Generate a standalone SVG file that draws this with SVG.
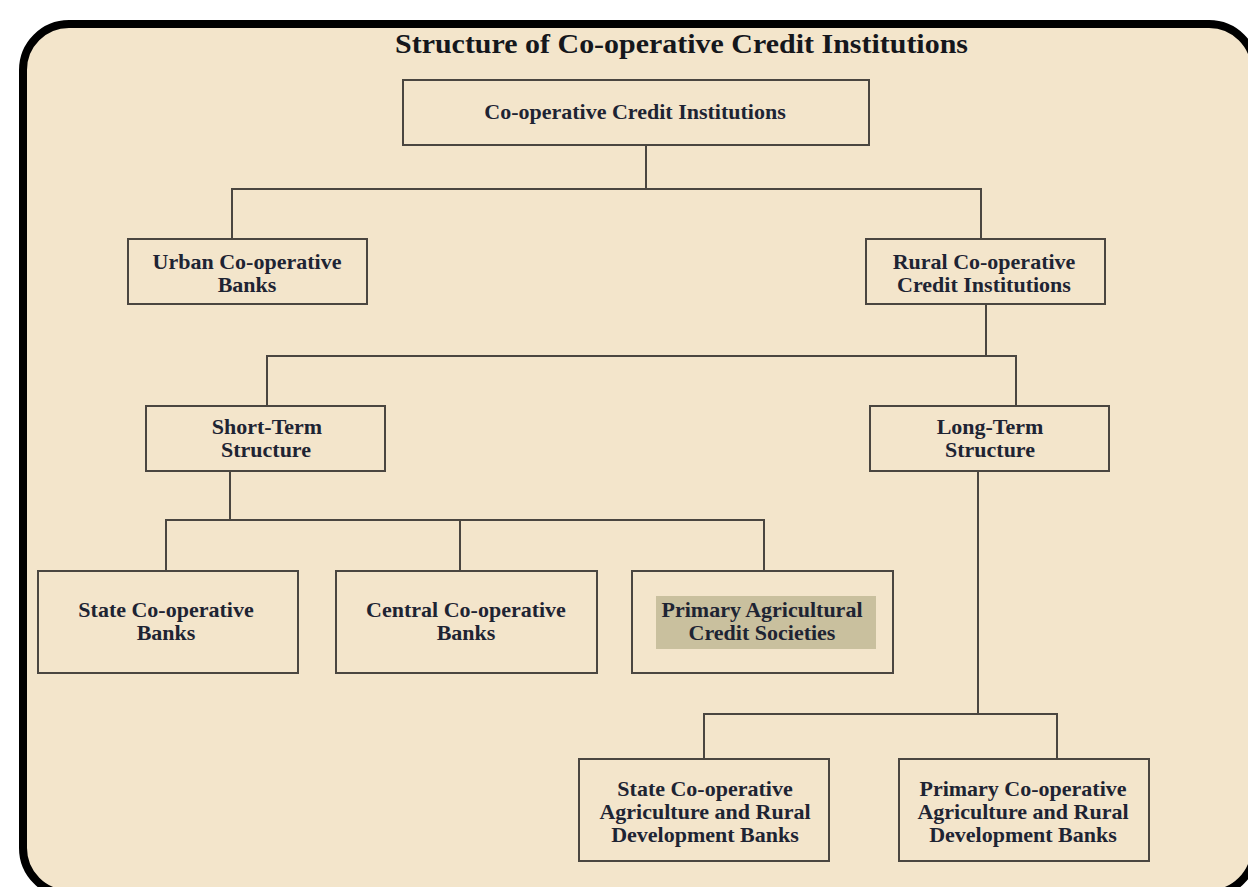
<svg xmlns="http://www.w3.org/2000/svg" width="1248" height="887" viewBox="0 0 1248 887">
<style>
.box{fill:none;stroke:#4a4640;stroke-width:2}
.lbl{font-family:"Liberation Serif","Times New Roman",serif;font-weight:bold;font-size:22px;fill:#1e2433;text-anchor:middle}
.ttl{font-family:"Liberation Serif","Times New Roman",serif;font-weight:bold;font-size:27px;fill:#15171c;text-anchor:middle}
.conn{fill:none;stroke:#4a4640;stroke-width:2}
</style>
<rect x="0" y="0" width="1248" height="887" fill="#ffffff"/>
<rect id="frame" x="23" y="24" width="1232" height="870" rx="46" ry="46" fill="#f3e5cb" stroke="#000" stroke-width="8"/>
<text class="ttl" x="681.5" y="53" textLength="573" lengthAdjust="spacingAndGlyphs">Structure of Co-operative Credit Institutions</text>
<g id="connectors" class="conn">
<path d="M646 145V189M232 239V189H981V239"/>
<path d="M986 304V356M267 406V356H1016V406"/>
<path d="M230 471V520M166 571V520H764V571M460 520V571"/>
<path d="M978 471V714M704 759V714H1057V759"/>
</g>
<g id="n-root"><rect class="box" x="403" y="80" width="466" height="65"/><text class="lbl" x="635" y="119">Co-operative Credit Institutions</text></g>
<g id="n-urban"><rect class="box" x="128" y="239" width="239" height="65"/><text class="lbl" x="247" y="269">Urban Co-operative</text><text class="lbl" x="247" y="292">Banks</text></g>
<g id="n-rural"><rect class="box" x="866" y="239" width="239" height="65"/><text class="lbl" x="984" y="269">Rural Co-operative</text><text class="lbl" x="984" y="292">Credit Institutions</text></g>
<g id="n-short"><rect class="box" x="146" y="406" width="239" height="65"/><text class="lbl" x="267" y="434">Short-Term</text><text class="lbl" x="266" y="457">Structure</text></g>
<g id="n-long"><rect class="box" x="870" y="406" width="239" height="65"/><text class="lbl" x="990" y="434">Long-Term</text><text class="lbl" x="990" y="457">Structure</text></g>
<g id="n-scb"><rect class="box" x="38" y="571" width="260" height="102"/><text class="lbl" x="166" y="617">State Co-operative</text><text class="lbl" x="166" y="640">Banks</text></g>
<g id="n-ccb"><rect class="box" x="336" y="571" width="261" height="102"/><text class="lbl" x="466" y="617">Central Co-operative</text><text class="lbl" x="466" y="640">Banks</text></g>
<g id="n-pacs"><rect class="box" x="632" y="571" width="261" height="102"/><rect x="656" y="596" width="220" height="53" fill="#c9c09e"/><text class="lbl" x="762" y="617">Primary Agricultural</text><text class="lbl" x="762" y="640">Credit Societies</text></g>
<g id="n-scardb"><rect class="box" x="579" y="759" width="250" height="102"/><text class="lbl" x="705" y="796">State Co-operative</text><text class="lbl" x="705" y="819">Agriculture and Rural</text><text class="lbl" x="705" y="842">Development Banks</text></g>
<g id="n-pcardb"><rect class="box" x="899" y="759" width="250" height="102"/><text class="lbl" x="1023" y="796">Primary Co-operative</text><text class="lbl" x="1023" y="819">Agriculture and Rural</text><text class="lbl" x="1023" y="842">Development Banks</text></g>
</svg>
